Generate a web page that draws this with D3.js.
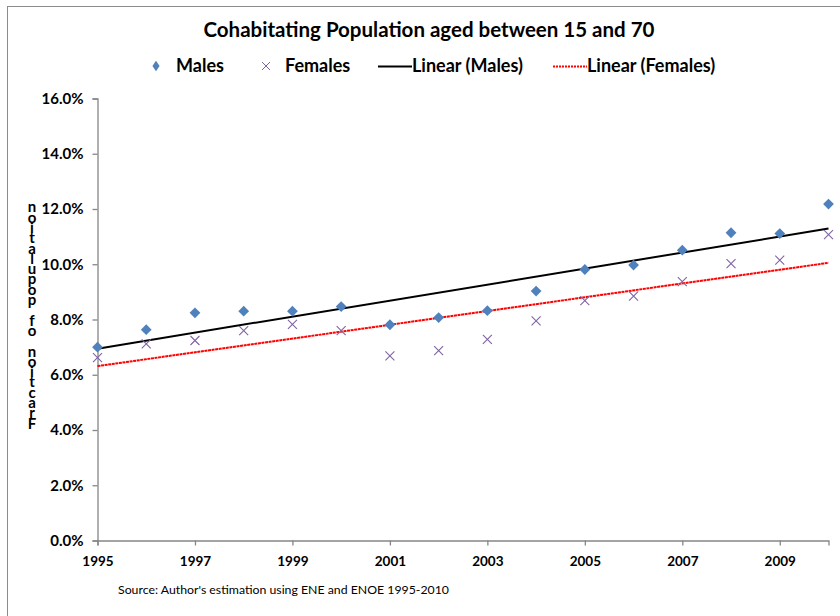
<!DOCTYPE html>
<html>
<head>
<meta charset="utf-8">
<script src="https://cdn.jsdelivr.net/npm/d3@7"></script>
<style>
  html, body { margin: 0; padding: 0; background: #fff; }
  svg text { font-family: Lato, "Open Sans", sans-serif; }
</style>
</head>
<body>
<svg id="chart" width="840" height="616"></svg>
<script>
// Survey years
const years = [1995, 1996, 1997, 1998, 1999, 2000, 2001, 2002, 2003, 2004, 2005, 2006, 2007, 2008, 2009, 2010];
// Share of each population that is cohabitating (%)
const males   = [7.00, 7.63, 8.24, 8.30, 8.30, 8.47, 7.81, 8.07, 8.32, 9.03, 9.81, 9.97, 10.51, 11.14, 11.11, 12.18];
const females = [6.62, 7.12, 7.24, 7.60, 7.82, 7.60, 6.68, 6.87, 7.28, 7.95, 8.68, 8.85, 9.37, 10.02, 10.15, 11.07];
// Axis ticks
const xTicks = [1995, 1997, 1999, 2001, 2003, 2005, 2007, 2009];
const yTicks = [0, 2, 4, 6, 8, 10, 12, 14, 16];

const titleText = "Cohabitating Population aged between 15 and 70";
const yLabel = "Fraction of population";
const sourceText = "Source: Author's estimation using ENE and ENOE  1995-2010";

const svg = d3.select("#chart");

// outer chart frame
svg.append("rect")
  .attr("x", 7.5).attr("y", 6.5)
  .attr("width", 900).attr("height", 700)
  .attr("fill", "none").attr("stroke", "#8c8c8c").attr("stroke-width", 1);

const x = d3.scaleLinear().domain([1995, 2010]).range([97.5, 828.5]);
const y = d3.scaleLinear().domain([0, 16]).range([540.5, 98.5]);

const axisColor = "#868686";

// y axis
const yAxis = svg.append("g")
  .attr("transform", `translate(${x(1995)},0)`)
  .call(d3.axisLeft(y).tickValues(yTicks).tickSize(5).tickPadding(9)
        .tickFormat(d => d.toFixed(1) + "%"));
yAxis.select(".domain").attr("stroke", axisColor).attr("stroke-width", 1.3);
yAxis.selectAll(".tick line").attr("stroke", axisColor).attr("stroke-width", 1.3);
yAxis.selectAll(".tick text")
  .attr("font-family", "Lato, sans-serif").attr("font-size", 15)
  .attr("font-weight", "bold").attr("fill", "#000");

// x axis
const xAxis = svg.append("g")
  .attr("transform", `translate(0,${y(0)})`)
  .call(d3.axisBottom(x).tickValues(xTicks).tickSize(5).tickPadding(11)
        .tickFormat(d3.format("d")));
xAxis.select(".domain").attr("stroke", axisColor).attr("stroke-width", 1.3);
xAxis.selectAll(".tick line").attr("stroke", axisColor).attr("stroke-width", 1.3);
xAxis.selectAll(".tick text")
  .attr("font-family", "Lato, sans-serif").attr("font-size", 13.5)
  .attr("font-weight", "bold").attr("fill", "#000");

// least-squares trend line over the years
function linearFit(xs, ys) {
  const n = xs.length;
  const mx = d3.mean(xs), my = d3.mean(ys);
  let sxy = 0, sxx = 0;
  for (let i = 0; i < n; i++) {
    sxy += (xs[i] - mx) * (ys[i] - my);
    sxx += (xs[i] - mx) * (xs[i] - mx);
  }
  const b = sxy / sxx;
  const a = my - b * mx;
  return xv => a + b * xv;
}
const fitM = linearFit(years, males);
const fitF = linearFit(years, females);
const ends = [years[0], years[years.length - 1]];
const line = d3.line().x(d => x(d[0])).y(d => y(d[1]));

svg.append("path")
  .attr("d", line(ends.map(v => [v, fitM(v)])))
  .attr("stroke", "#000").attr("stroke-width", 2).attr("fill", "none");
svg.append("path")
  .attr("d", line(ends.map(v => [v, fitF(v)])))
  .attr("stroke", "#ff0000").attr("stroke-width", 2).attr("fill", "none")
  .attr("stroke-dasharray", "3,0.6");

// female markers (crosses)
const crossSize = 4.5;
svg.append("g").selectAll("path")
  .data(years.map((yr, i) => [yr, females[i]]))
  .join("path")
  .attr("d", d => {
    const cx = x(d[0]), cy = y(d[1]), s = crossSize;
    return `M${cx - s},${cy - s}L${cx + s},${cy + s}M${cx - s},${cy + s}L${cx + s},${cy - s}`;
  })
  .attr("stroke", "#8064a2").attr("stroke-width", 1.1).attr("fill", "none");

// male markers (diamonds)
const diamond = d3.symbol().type(d3.symbolSquare).size(58);
svg.append("g").selectAll("path")
  .data(years.map((yr, i) => [yr, males[i]]))
  .join("path")
  .attr("d", diamond)
  .attr("transform", d => `translate(${x(d[0])},${y(d[1])}) rotate(45)`)
  .attr("fill", "#4f81bd");

// title
svg.append("text")
  .attr("x", 429).attr("y", 37)
  .attr("text-anchor", "middle")
  .attr("font-size", 20.5).attr("font-weight", "bold")
  .text(titleText);

// legend
const lg = svg.append("g").attr("font-size", 18).attr("font-weight", "bold");
lg.append("path").attr("d", d3.symbol().type(d3.symbolSquare).size(40)())
  .attr("transform", "translate(156,66) scale(0.8,1.2) rotate(45)").attr("fill", "#4f81bd");
lg.append("text").attr("x", 176).attr("y", 72).text("Males");
lg.append("path").attr("d", "M262,62L270,70M262,70L270,62")
  .attr("stroke", "#8064a2").attr("stroke-width", 1);
lg.append("text").attr("x", 285).attr("y", 72).text("Females");
lg.append("line").attr("x1", 378).attr("x2", 412).attr("y1", 66.5).attr("y2", 66.5)
  .attr("stroke", "#000").attr("stroke-width", 2);
lg.append("text").attr("x", 412).attr("y", 72).text("Linear (Males)");
lg.append("line").attr("x1", 553).attr("x2", 587).attr("y1", 66.5).attr("y2", 66.5)
  .attr("stroke", "#ff0000").attr("stroke-width", 2).attr("stroke-dasharray", "2,1");
lg.append("text").attr("x", 587).attr("y", 72).text("Linear (Females)");

// vertical axis title: upright letters stacked, read from the bottom upwards
svg.append("text")
  .attr("x", 32).attr("y", 424)
  .attr("font-size", 15).attr("font-weight", "bold")
  .style("writing-mode", "vertical-rl")
  .style("text-orientation", "upright")
  .style("direction", "rtl")
  .style("unicode-bidi", "bidi-override")
  .style("letter-spacing", "-7.7px")
  .text(yLabel);

// source note
svg.append("text")
  .attr("x", 118).attr("y", 594)
  .attr("font-size", 12.3)
  .text(sourceText);
</script>
</body>
</html>
